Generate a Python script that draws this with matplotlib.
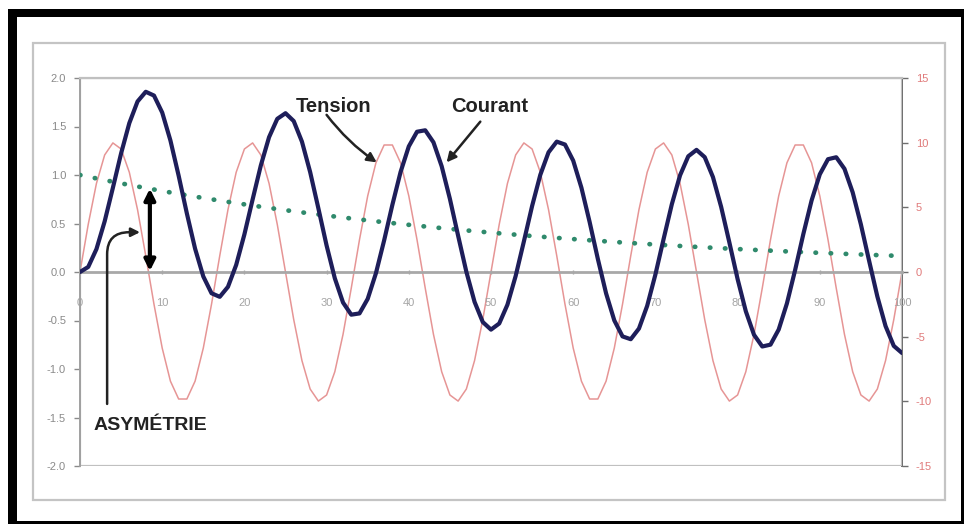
import matplotlib
matplotlib.use("Agg")
import matplotlib.pyplot as plt
from matplotlib.patches import Rectangle

# abscisse (pas de 1)
temps = list(range(0, 101))

# tension (axe de droite, V)
tension = [
    0.00, 3.68, 6.85, 9.05, 9.98, 9.51, 7.71, 4.82, 1.25, -2.49,
    -5.88, -8.44, -9.82, -9.82, -8.44, -5.88, -2.49, 1.25, 4.82, 7.71,
    9.51, 9.98, 9.05, 6.85, 3.68, 0.00, -3.68, -6.85, -9.05, -9.98,
    -9.51, -7.71, -4.82, -1.25, 2.49, 5.88, 8.44, 9.82, 9.82, 8.44,
    5.88, 2.49, -1.25, -4.82, -7.71, -9.51, -9.98, -9.05, -6.85, -3.68,
    0.00, 3.68, 6.85, 9.05, 9.98, 9.51, 7.71, 4.82, 1.25, -2.49,
    -5.88, -8.44, -9.82, -9.82, -8.44, -5.88, -2.49, 1.25, 4.82, 7.71,
    9.51, 9.98, 9.05, 6.85, 3.68, 0.00, -3.68, -6.85, -9.05, -9.98,
    -9.51, -7.71, -4.82, -1.25, 2.49, 5.88, 8.44, 9.82, 9.82, 8.44,
    5.88, 2.49, -1.25, -4.82, -7.71, -9.51, -9.98, -9.05, -6.85, -3.68,
    0.00,
]

# courant (axe de gauche)
courant = [
    0.000, 0.052, 0.236, 0.522, 0.868, 1.223, 1.535, 1.758, 1.858, 1.819,
    1.644, 1.356, 0.993, 0.604, 0.241, -0.046, -0.219, -0.256, -0.153, 0.073,
    0.388, 0.748, 1.099, 1.390, 1.579, 1.637, 1.556, 1.344, 1.030, 0.656,
    0.273, -0.065, -0.315, -0.440, -0.427, -0.277, -0.013, 0.326, 0.692, 1.031,
    1.295, 1.446, 1.461, 1.337, 1.090, 0.754, 0.374, 0.003, -0.308, -0.516,
    -0.594, -0.531, -0.337, -0.041, 0.315, 0.680, 1.002, 1.234, 1.344, 1.314,
    1.148, 0.869, 0.515, 0.134, -0.220, -0.499, -0.664, -0.693, -0.583, -0.349,
    -0.026, 0.341, 0.699, 0.997, 1.193, 1.259, 1.184, 0.979, 0.671, 0.304,
    -0.073, -0.405, -0.648, -0.768, -0.749, -0.593, -0.324, 0.021, 0.392, 0.737,
    1.007, 1.163, 1.183, 1.064, 0.821, 0.490, 0.115, -0.252, -0.558, -0.762,
    -0.835,
]

# composante continue (asymetrie)
composante = [
    1.0000, 0.9821, 0.9646, 0.9474, 0.9305, 0.9138, 0.8975, 0.8815, 0.8657, 0.8503,
    0.8351, 0.8202, 0.8055, 0.7911, 0.7770, 0.7631, 0.7495, 0.7361, 0.7230, 0.7101,
    0.6974, 0.6849, 0.6727, 0.6607, 0.6489, 0.6373, 0.6259, 0.6147, 0.6038, 0.5930,
    0.5824, 0.5720, 0.5618, 0.5518, 0.5419, 0.5322, 0.5227, 0.5134, 0.5042, 0.4952,
    0.4864, 0.4777, 0.4692, 0.4608, 0.4525, 0.4445, 0.4365, 0.4287, 0.4211, 0.4136,
    0.4062, 0.3989, 0.3918, 0.3848, 0.3779, 0.3712, 0.3645, 0.3580, 0.3516, 0.3454,
    0.3392, 0.3331, 0.3272, 0.3213, 0.3156, 0.3100, 0.3044, 0.2990, 0.2936, 0.2884,
    0.2833, 0.2782, 0.2732, 0.2683, 0.2635, 0.2588, 0.2542, 0.2497, 0.2452, 0.2408,
    0.2365, 0.2323, 0.2282, 0.2241, 0.2201, 0.2162, 0.2123, 0.2085, 0.2048, 0.2011,
    0.1975, 0.1940, 0.1906, 0.1872, 0.1838, 0.1805, 0.1773, 0.1741, 0.1710, 0.1680,
    0.1650,
]

ticks_gauche = [-2.0, -1.5, -1.0, -0.5, 0.0, 0.5, 1.0, 1.5, 2.0]
ticks_droite = [-15, -10, -5, 0, 5, 10, 15]
ticks_x = [0, 10, 20, 30, 40, 50, 60, 70, 80, 90, 100]

W, H = 964, 524
plt.rcParams['font.family'] = ['Liberation Sans', 'DejaVu Sans']
fig = plt.figure(figsize=(W / 100, H / 100), dpi=100)
fig.patch.set_facecolor('white')


def px_rect(x0, y0, x1, y1, **kw):
    # rectangle en pixels (origine en haut a gauche)
    r = Rectangle((x0 / W, 1 - y1 / H), (x1 - x0) / W, (y1 - y0) / H,
                  transform=fig.transFigure, **kw)
    fig.add_artist(r)


# cadre noir
px_rect(8, 9, 17, 524, facecolor='black', edgecolor='none')
px_rect(8, 9, 964, 17, facecolor='black', edgecolor='none')
px_rect(961, 9, 964, 524, facecolor='black', edgecolor='none')
px_rect(8, 521, 964, 524, facecolor='black', edgecolor='none')
# cadre gris du graphique
px_rect(33, 43, 945, 500, facecolor='none', edgecolor='#c4c4c4', linewidth=1.6)

ax = fig.add_axes([80 / W, 1 - 466 / H, (902 - 80) / W, (466 - 78) / H])
ax2 = ax.twinx()

ax2.plot(temps, tension, color='#e69595', linewidth=1.1, zorder=2)
ax2.set_ylim(-15, 15)

ax.set_zorder(ax2.get_zorder() + 1)
ax.patch.set_visible(False)
ax.plot(temps, composante, color='#2f8a6c', linewidth=3.4,
        linestyle=(0, (0.1, 3.1)), dash_capstyle='round', zorder=3)
ax.plot(temps, courant, color='#1e1e5a', linewidth=3.0, zorder=4,
        solid_capstyle='round', solid_joinstyle='round')
ax.set_xlim(0, 100)
ax.set_ylim(-2, 2)

# axes a la maniere d'Excel
ax.spines['bottom'].set_position(('data', 0))
ax.spines['bottom'].set_color('#a8a8a8')
ax.spines['bottom'].set_linewidth(2.0)
ax.spines['left'].set_color('#a0a0a0')
ax.spines['left'].set_linewidth(1.4)
ax.spines['top'].set_color('#c0c0c0')
ax.spines['top'].set_linewidth(1.6)
ax.spines['right'].set_visible(False)
for s in ax2.spines.values():
    s.set_visible(False)
ax2.spines['right'].set_visible(True)
ax2.spines['right'].set_color('#6e6e6e')
ax2.spines['right'].set_linewidth(1.4)
ax.add_patch(Rectangle((0, 0), 1, 1, transform=ax.transAxes, fill=False,
                       edgecolor='#c0c0c0', linewidth=1.6, zorder=0))

ax.set_yticks(ticks_gauche)
ax.set_yticklabels(['%.1f' % v for v in ticks_gauche])
ax.tick_params(axis='y', colors='#8a8a8a', labelsize=8, length=4, width=1, pad=6)
ax.set_xticks(ticks_x)
ax.set_xticklabels([str(v) for v in ticks_x])
ax.tick_params(axis='x', colors='#a4a4a4', labelsize=8, length=3, width=1,
               direction='inout', pad=17)
ax2.set_yticks(ticks_droite)
ax2.set_yticklabels([str(v) for v in ticks_droite])
ax2.tick_params(axis='y', colors='#6e6e6e', labelcolor='#e07a7a', labelsize=8,
                length=4, width=1, pad=6)

# annotations
ax.text(30.8, 1.71, 'Tension', ha='center', va='center', fontsize=14.5,
        fontweight='bold', color='#222222')
ax.text(49.8, 1.71, 'Courant', ha='center', va='center', fontsize=14.5,
        fontweight='bold', color='#222222')
ax.text(8.6, -1.58, 'ASYMÉTRIE', ha='center', va='center', fontsize=14,
        fontweight='bold', color='#222222')

ax.annotate('', xy=(36.1, 1.13), xytext=(30.0, 1.62),
            arrowprops=dict(arrowstyle='-|>', color='#222222', lw=1.8,
                            mutation_scale=14, shrinkA=0, shrinkB=0,
                            connectionstyle='arc3,rad=0.08'))
ax.annotate('', xy=(44.6, 1.13), xytext=(48.7, 1.55),
            arrowprops=dict(arrowstyle='-|>', color='#222222', lw=1.8,
                            mutation_scale=14, shrinkA=0, shrinkB=0))
ax.annotate('', xy=(8.5, 0.01), xytext=(8.5, 0.86),
            arrowprops=dict(arrowstyle='<|-|>', color='black', lw=3.0,
                            mutation_scale=16, shrinkA=0, shrinkB=0))
ax.annotate('', xy=(7.3, 0.41), xytext=(3.3, -1.36),
            arrowprops=dict(arrowstyle='-|>', color='#222222', lw=1.8,
                            mutation_scale=13, shrinkA=0, shrinkB=0,
                            connectionstyle='angle,angleA=90,angleB=0,rad=22'))

fig.savefig('out.png', dpi=100)
